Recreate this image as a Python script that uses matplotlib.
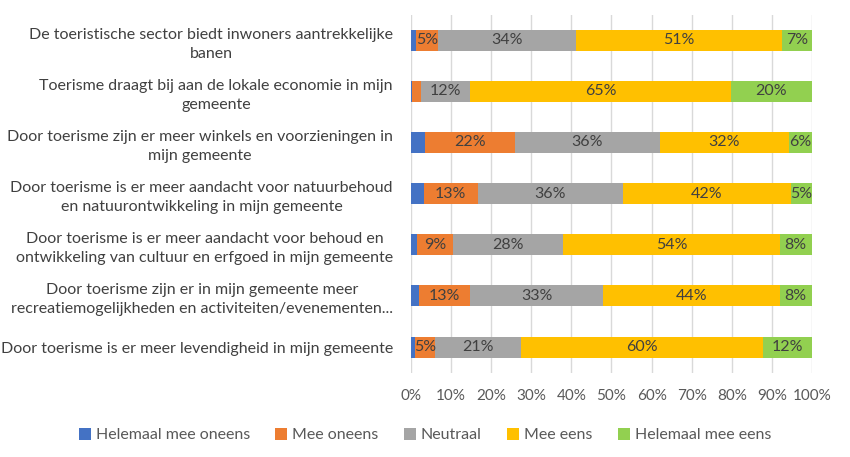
import matplotlib
matplotlib.use("Agg")
import matplotlib.pyplot as plt
import numpy as np

categories = [
    "De toeristische sector biedt inwoners aantrekkelijke\nbanen",
    "Toerisme draagt bij aan de lokale economie in mijn\ngemeente",
    "Door toerisme zijn er meer winkels en voorzieningen in\nmijn gemeente",
    "Door toerisme is er meer aandacht voor natuurbehoud\nen natuurontwikkeling in mijn gemeente",
    "Door toerisme is er meer aandacht voor behoud en\nontwikkeling van cultuur en erfgoed in mijn gemeente",
    "Door toerisme zijn er in mijn gemeente meer\nrecreatiemogelijkheden en activiteiten/evenementen...",
    "Door toerisme is er meer levendigheid in mijn gemeente",
]
series_names = ["Helemaal mee oneens", "Mee oneens", "Neutraal", "Mee eens", "Helemaal mee eens"]
helemaal_oneens = [1.3, 0.3, 3.6, 3.2, 1.5, 2.0, 0.9]
oneens = [5.4, 2.2, 22.4, 13.4, 8.9, 12.8, 5.2]
neutraal = [34.5, 12.3, 36.0, 36.3, 27.6, 33.1, 21.4]
eens = [51.4, 64.9, 32.3, 41.8, 53.9, 44.0, 60.4]
helemaal_eens = [7.4, 20.3, 5.7, 5.3, 8.1, 8.1, 12.1]
xticks = [0, 10, 20, 30, 40, 50, 60, 70, 80, 90, 100]

colors = ["#4472C4", "#ED7D31", "#A5A5A5", "#FFC000", "#92D050"]
font = ["Lato", "DejaVu Sans"]
plt.rcParams["font.family"] = font

fig = plt.figure(figsize=(8.5, 4.57), dpi=100)
ax = fig.add_axes([0.4835, 0.1847, 0.4718, 0.7834])

data = [helemaal_oneens, oneens, neutraal, eens, helemaal_eens]
y = np.arange(len(categories))
left = np.zeros(len(categories))
for vals, name, col in zip(data, series_names, colors):
    vals = np.array(vals)
    ax.barh(y, vals, left=left, height=0.41, color=col, label=name, zorder=3)
    for yi, (l, v) in enumerate(zip(left, vals)):
        if v >= 4.5:
            ax.text(l + v / 2, yi, f"{round(v):.0f}%", ha="center", va="center",
                    fontsize=11.5, color="#404040", zorder=4)
    left += vals

ax.set_xlim(0, 100)
ax.set_ylim(len(categories) - 0.5, -0.5)
ax.set_xticks(xticks)
ax.set_xticklabels([f"{t}%" for t in xticks], color="#595959", fontsize=11)
ax.set_yticks(y)
ax.set_yticklabels(categories, fontsize=11.5, color="#404040", multialignment="center",
                   linespacing=1.45)
ax.tick_params(axis="x", length=0, pad=12)
ax.tick_params(axis="y", length=0, pad=13)
ax.grid(axis="x", color="#D9D9D9", linewidth=1, zorder=0)
for s in ax.spines.values():
    s.set_visible(False)

handles, labels = ax.get_legend_handles_labels()
fig.legend(handles, labels, loc="center", bbox_to_anchor=(0.5, 0.048), ncol=5, frameon=False,
           fontsize=11.5, handlelength=0.75, handleheight=0.75, handletextpad=0.3, columnspacing=1.6,
           labelcolor="#595959")

fig.savefig("out.png", dpi=100)
